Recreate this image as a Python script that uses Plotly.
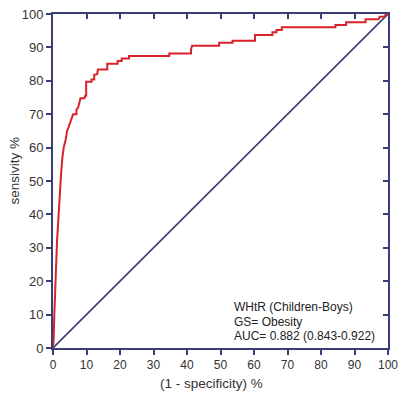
import plotly.graph_objects as go

# ROC curve vertices (1 - specificity %, sensitivity %)
fpr = [0, 0.2, 0.4, 0.6, 0.8, 1.0, 1.2, 1.5, 1.8, 2.1, 2.4, 2.8, 3.2, 3.8, 4.2, 4.6, 5.2, 5.8, 6.0,
       7.0, 7.0, 7.5, 8.2, 9.4, 9.6, 9.9, 9.9, 11.5, 11.5, 12.3, 12.3, 13.2, 13.4, 16.2, 16.2,
       19.3, 19.3, 20.5, 20.5, 22.7, 22.7, 34.7, 34.7, 41.2, 41.2, 41.5, 49.6, 49.6, 53.6, 53.6,
       60.3, 60.3, 65.5, 65.5, 66.7, 66.7, 68.3, 68.3, 84.3, 84.3, 87.5, 87.5, 93.3, 93.3,
       97.2, 97.5, 98.8, 99.5, 100]
tpr = [0, 3, 10, 17, 24, 28, 32, 37, 43, 48, 52, 57, 60, 62.5, 65, 66, 67.5, 69, 70,
       70, 71.3, 72, 74.8, 74.8, 75.5, 75.5, 79.7, 79.7, 80.4, 80.4, 81.8, 82, 83.4, 83.4, 85.1,
       85.1, 85.9, 85.9, 86.7, 86.7, 87.4, 87.4, 88.2, 88.2, 89.3, 90.5, 90.5, 91.4, 91.4, 92.0,
       92.0, 93.7, 93.7, 94.5, 94.5, 95.2, 95.2, 96.0, 96.0, 96.7, 96.7, 97.5, 97.5, 98.4,
       98.4, 99.2, 99.2, 100, 100]

diag = [0, 100]
ticks = [0, 10, 20, 30, 40, 50, 60, 70, 80, 90, 100]
tick_text = [str(t) for t in ticks]
x_title = "(1 - specificity) %"
y_title = "sensivity %"
info_lines = ["WHtR (Children-Boys)", "GS= Obesity", "AUC= 0.882 (0.843-0.922)"]
info_y = [12.3, 7.9, 3.6]

NAVY = "#3a3e78"
RED = "#d8232a"
FONT = "Liberation Sans, Arial, sans-serif"
TXT = "#333333"

fig = go.Figure()
fig.add_trace(go.Scatter(x=diag, y=diag, mode="lines",
                         line=dict(color=NAVY, width=1.6), showlegend=False, hoverinfo="skip"))
fig.add_trace(go.Scatter(x=fpr, y=tpr, mode="lines",
                         line=dict(color=RED, width=2), showlegend=False))
# invisible trace for mirrored inside-tick axes
fig.add_trace(go.Scatter(x=[0], y=[0], xaxis="x2", yaxis="y2", mode="markers",
                         marker=dict(opacity=0), showlegend=False, hoverinfo="skip"))

axis_common = dict(range=[0, 100], tickvals=ticks, ticktext=tick_text, showgrid=False,
                   zeroline=False, showline=True, linecolor=NAVY, linewidth=2,
                   tickcolor=NAVY, tickwidth=1.5, ticklen=5, automargin=False)

fig.update_layout(
    width=398, height=395,
    margin=dict(l=53, r=10, t=14, b=47, autoexpand=False),
    paper_bgcolor="white", plot_bgcolor="white",
    font=dict(family=FONT, color=TXT),
    xaxis=dict(**axis_common, ticks="outside", ticklabeloverflow="allow",
               tickfont=dict(family=FONT, size=12, color=TXT)),
    yaxis=dict(**axis_common, ticks="outside", ticklabeloverflow="allow",
               tickfont=dict(family=FONT, size=13, color=TXT)),
    xaxis2=dict(range=[0, 100], tickvals=ticks, overlaying="x", side="top", showgrid=False,
                zeroline=False, showline=True, linecolor=NAVY, linewidth=2, ticks="inside",
                tickcolor=NAVY, tickwidth=1.5, ticklen=5, showticklabels=False, automargin=False),
    yaxis2=dict(range=[0, 100], tickvals=ticks, overlaying="y", side="right", showgrid=False,
                zeroline=False, showline=True, linecolor=NAVY, linewidth=2, ticks="inside",
                tickcolor=NAVY, tickwidth=1.5, ticklen=5, showticklabels=False, automargin=False),
)

fig.add_annotation(x=0.473, y=-0.105, xref="paper", yref="paper", text=x_title,
                   showarrow=False, xanchor="center", yanchor="middle",
                   font=dict(family=FONT, size=13.5, color=TXT))
fig.add_annotation(x=-0.1146, y=0.53, xref="paper", yref="paper", text=y_title,
                   showarrow=False, xanchor="center", yanchor="middle", textangle=-90,
                   font=dict(family=FONT, size=13.5, color=TXT))

for txt, yv in zip(info_lines, info_y):
    fig.add_annotation(x=53.3, y=yv, xref="x", yref="y", text=txt, showarrow=False,
                       xanchor="left", yanchor="middle",
                       font=dict(family=FONT, size=12, color="#222222"))

fig.write_html("out.html")
